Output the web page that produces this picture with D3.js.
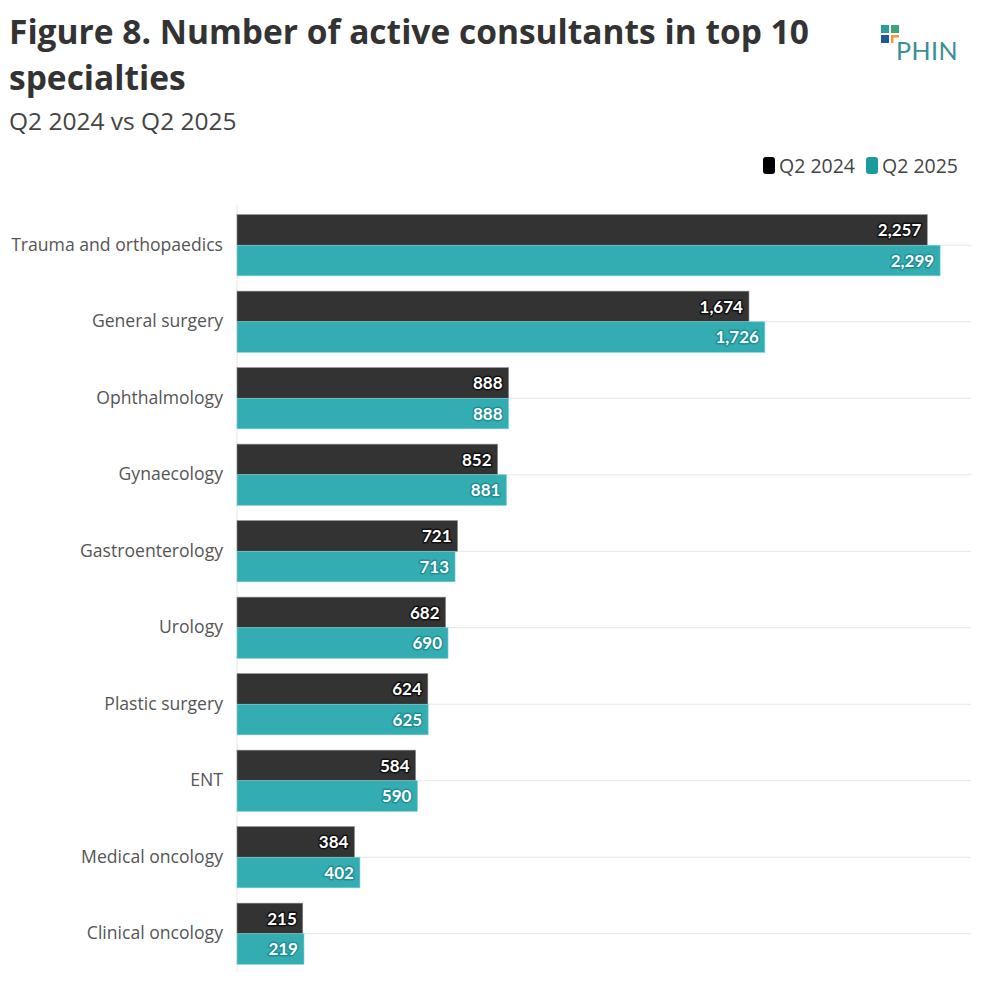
<!DOCTYPE html>
<html>
<head>
<meta charset="utf-8">
<script src="https://cdn.jsdelivr.net/npm/d3@7"></script>
<style>
  body { margin: 0; background: #fff; }
  svg { display: block; font-family: "Open Sans", "Noto Sans", sans-serif; }
</style>
</head>
<body>
<div class="chart"></div>
<script>
var specialties = ['Trauma and orthopaedics', 'General surgery', 'Ophthalmology', 'Gynaecology',
    'Gastroenterology', 'Urology', 'Plastic surgery', 'ENT', 'Medical oncology', 'Clinical oncology'];
var seriesNames = ['Q2 2024', 'Q2 2025'];
var q2_2024 = [2257, 1674, 888, 852, 721, 682, 624, 584, 384, 215];
var q2_2025 = [2299, 1726, 888, 881, 713, 690, 625, 590, 402, 219];

var colors = { 'Q2 2024': '#333333', 'Q2 2025': '#33adb2' };
var halo = { 'Q2 2024': '#111111', 'Q2 2025': '#1e8f93' };

var width = 985, height = 987;
var svg = d3.select('.chart').append('svg')
    .attr('width', width)
    .attr('height', height);

// title block
svg.append('text')
    .attr('x', 9).attr('y', 44)
    .style('font-size', '33.5px').style('font-weight', 700).style('fill', '#333')
    .text('Figure 8. Number of active consultants in top 10');
svg.append('text')
    .attr('x', 9).attr('y', 90)
    .style('font-size', '33.5px').style('font-weight', 700).style('fill', '#333')
    .text('specialties');
svg.append('text')
    .attr('x', 9).attr('y', 130)
    .style('font-size', '24.5px').style('fill', '#444')
    .text('Q2 2024 vs Q2 2025');

// logo
var logo = svg.append('g').attr('transform', 'translate(881,25)');
logo.append('rect').attr('width', 8).attr('height', 8).attr('fill', '#2a9d9c');
logo.append('rect').attr('x', 10).attr('width', 8).attr('height', 8).attr('fill', '#3aa579');
logo.append('rect').attr('y', 10).attr('width', 8).attr('height', 8).attr('fill', '#1f5a96');
logo.append('path').attr('d', 'M10,10h8v2.5h-5.5v5.5h-2.5z').attr('fill', '#f29a38');
logo.append('text')
    .attr('x', 15).attr('y', 35)
    .style('font-family', 'Lato, sans-serif')
    .style('font-size', '25px').style('fill', '#3a8f99').style('letter-spacing', '0.5px')
    .text('PHIN');

// legend
var legend = svg.append('g').attr('transform', 'translate(0,166)');
var legendX = [763, 866];
seriesNames.forEach(function(name, i){
    legend.append('rect')
        .attr('x', legendX[i]).attr('y', -9)
        .attr('width', 12).attr('height', 17).attr('rx', 3)
        .attr('fill', i === 0 ? '#000' : '#1a9c9f');
    legend.append('text')
        .attr('x', legendX[i] + 16).attr('y', 7)
        .style('font-size', '19.5px').style('fill', '#444')
        .text(name);
});

// scales
var x = d3.scaleLinear().domain([0, 2400]).range([237, 971]);
var y = d3.scaleBand().domain(specialties).range([207, 972])
    .paddingInner(0.2).paddingOuter(0.1);
var ySub = d3.scaleBand().domain(seriesNames).range([0, y.bandwidth()]);

var rows = specialties.map(function(s, i){
    return { name: s, values: [
        { series: 'Q2 2024', value: q2_2024[i] },
        { series: 'Q2 2025', value: q2_2025[i] }
    ]};
});

// grid lines at category centres
svg.append('g').selectAll('line')
    .data(specialties)
    .join('line')
    .attr('x1', x(0)).attr('x2', x(2400))
    .attr('y1', function(d){ return y(d) + y.bandwidth() / 2; })
    .attr('y2', function(d){ return y(d) + y.bandwidth() / 2; })
    .attr('stroke', '#e6e6e6');

svg.append('line')
    .attr('x1', x(0)).attr('x2', x(0))
    .attr('y1', 205).attr('y2', 972)
    .attr('stroke', '#e6e6e6');

// y axis labels
var yAxis = d3.axisLeft(y).tickSize(0).tickPadding(14);
svg.append('g')
    .attr('transform', 'translate(' + x(0) + ',0)')
    .call(yAxis)
    .call(function(g){ g.select('.domain').remove(); })
    .selectAll('text')
    .style('font-size', '17.6px')
    .style('font-family', '"Open Sans", "Noto Sans", sans-serif')
    .style('fill', '#555');

var groups = svg.append('g').selectAll('g')
    .data(rows)
    .join('g')
    .attr('transform', function(d){ return 'translate(0,' + y(d.name) + ')'; });

groups.selectAll('rect')
    .data(function(d){ return d.values; })
    .join('rect')
    .attr('x', x(0))
    .attr('y', function(d){ return ySub(d.series); })
    .attr('width', function(d){ return x(d.value) - x(0); })
    .attr('height', ySub.bandwidth())
    .attr('fill', function(d){ return colors[d.series]; })
    .attr('stroke', function(d){ return d.series === 'Q2 2024' ? '#888' : '#7fd0d3'; })
    .attr('stroke-width', 0.6);

groups.selectAll('text.value')
    .data(function(d){ return d.values; })
    .join('text')
    .attr('class', 'value')
    .attr('x', function(d){ return x(d.value) - 6; })
    .attr('y', function(d){ return ySub(d.series) + ySub.bandwidth() / 2; })
    .attr('dy', '0.36em')
    .attr('text-anchor', 'end')
    .style('font-family', 'Lato, sans-serif')
    .style('font-size', '17px')
    .style('font-weight', 700)
    .style('fill', '#fff')
    .style('stroke', function(d){ return halo[d.series]; })
    .style('stroke-width', 3)
    .style('stroke-linejoin', 'round')
    .style('paint-order', 'stroke')
    .text(function(d){ return d3.format(',')(d.value); });
</script>
</body>
</html>
